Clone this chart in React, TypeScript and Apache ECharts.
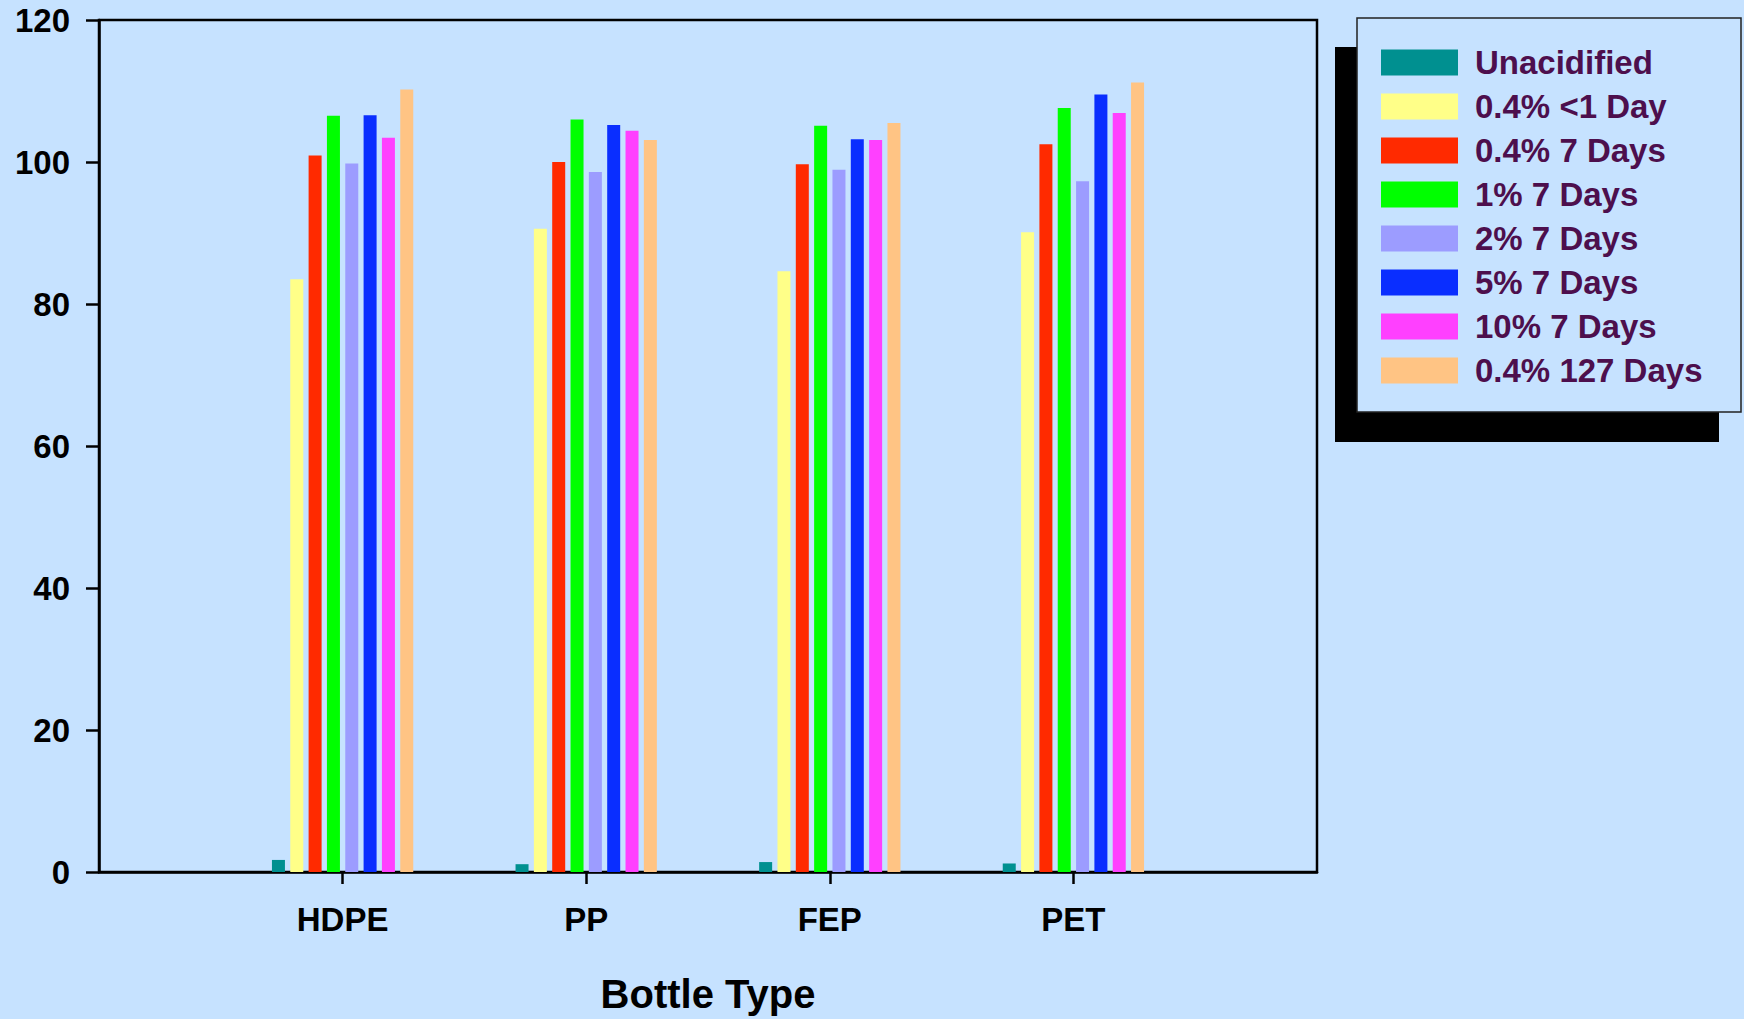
import React, { useEffect, useRef } from "react";
import * as echarts from "echarts";

const categories = ["", "HDPE", "PP", "FEP", "PET", ""];
const seriesNames = [
  "Unacidified",
  "0.4% <1 Day",
  "0.4% 7 Days",
  "1% 7 Days",
  "2% 7 Days",
  "5% 7 Days",
  "10% 7 Days",
  "0.4% 127 Days",
];
const seriesColors = ["#009090", "#FFFF88", "#FF2A00", "#00FF00", "#9C9CFF", "#0A2EFF", "#FF40FF", "#FFC484"];

// values per series across HDPE, PP, FEP, PET
const unacidified = [1.7, 1.1, 1.4, 1.2];
const day1_04 = [83.5, 90.6, 84.6, 90.1];
const days7_04 = [100.9, 100.0, 99.7, 102.5];
const days7_1 = [106.5, 106.0, 105.1, 107.6];
const days7_2 = [99.8, 98.6, 98.9, 97.3];
const days7_5 = [106.6, 105.2, 103.2, 109.5];
const days7_10 = [103.4, 104.4, 103.1, 106.9];
const days127_04 = [110.2, 103.1, 105.5, 111.2];

const seriesValues = [unacidified, day1_04, days7_04, days7_1, days7_2, days7_5, days7_10, days127_04];

const yTicks = { min: 0, max: 120, interval: 20 };

const FONT = "'Liberation Sans', Arial, sans-serif";
const BG = "#C6E2FF";

export default function App() {
  const ref = useRef<HTMLDivElement>(null);
  useEffect(() => {
    document.body.style.margin = "0";
    const chart = echarts.init(ref.current!, null, { renderer: "svg" });
    const option: any = {
      animation: false,
      backgroundColor: BG,
      grid: {
        left: 99,
        right: 427,
        top: 20,
        bottom: 146,
        show: true,
        borderColor: "#000",
        borderWidth: 2.5,
        backgroundColor: "transparent",
      },
      graphic: [
        { type: "rect", z: 0, shape: { x: 1335, y: 47, width: 384, height: 395 }, style: { fill: "#000" } },
        {
          type: "rect",
          z: 1,
          shape: { x: 1357, y: 18, width: 384, height: 394 },
          style: { fill: BG, stroke: "#222", lineWidth: 1.5 },
        },
      ],
      legend: {
        orient: "vertical",
        left: 1376,
        top: 41,
        z: 10,
        itemWidth: 77,
        itemHeight: 26,
        itemGap: 11,
        icon: "rect",
        selectedMode: false,
        data: seriesNames,
        textStyle: {
          fontFamily: FONT,
          fontSize: 33,
          fontWeight: "bold",
          color: "#4D0F4D",
          padding: [0, 0, 0, 12],
        },
      },
      xAxis: {
        type: "category",
        data: categories,
        boundaryGap: false,
        name: "Bottle Type",
        nameLocation: "middle",
        nameGap: 102,
        nameTextStyle: { fontFamily: FONT, fontSize: 40, fontWeight: "bold", color: "#000" },
        axisLine: { lineStyle: { color: "#000", width: 2.5 } },
        axisTick: {
          length: 12,
          lineStyle: { color: "#000", width: 2.5 },
          interval: (i: number) => i > 0 && i < categories.length - 1,
        },
        axisLabel: {
          margin: 31,
          fontFamily: FONT,
          fontSize: 33,
          fontWeight: "bold",
          color: "#000",
          interval: 0,
        },
        splitLine: { show: false },
      },
      yAxis: {
        type: "value",
        min: yTicks.min,
        max: yTicks.max,
        interval: yTicks.interval,
        axisLine: { show: true, lineStyle: { color: "#000", width: 2.5 } },
        axisTick: { show: true, length: 13, lineStyle: { color: "#000", width: 2.5 } },
        axisLabel: { margin: 29, fontFamily: FONT, fontSize: 33, fontWeight: "bold", color: "#000" },
        splitLine: { show: false },
      },
      series: seriesNames.map((name, i) => ({
        name,
        type: "bar",
        barWidth: 13,
        barGap: "41%",
        itemStyle: { color: seriesColors[i] },
        data: ["-", ...seriesValues[i], "-"],
      })),
    };
    chart.setOption(option);
    return () => chart.dispose();
  }, []);
  return <div ref={ref} style={{ width: 1744, height: 1019 }} />;
}
